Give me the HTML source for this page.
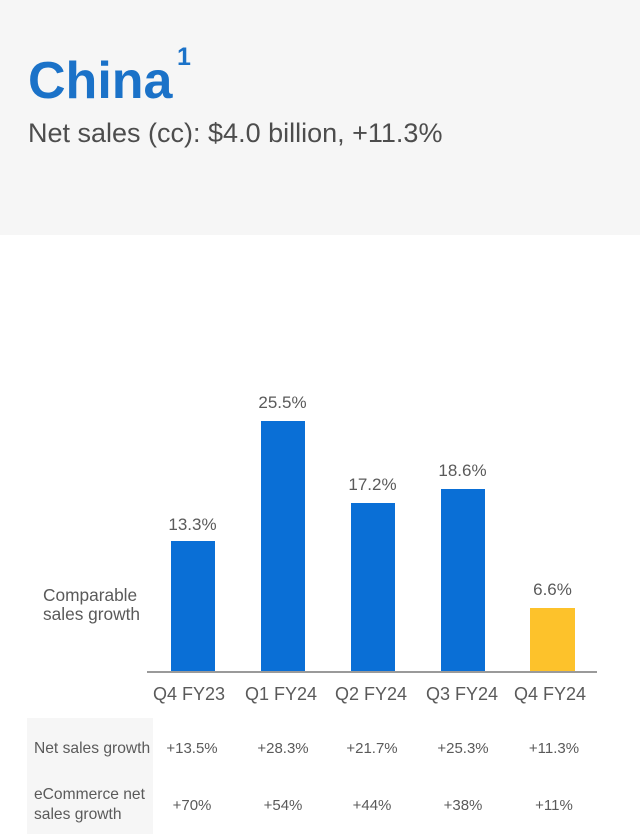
<!DOCTYPE html>
<html>
<head>
<meta charset="utf-8">
<style>
  html, body { margin: 0; padding: 0; background: #ffffff; }
  body { width: 640px; height: 834px; overflow: hidden; position: relative; }
  svg { display: block; }
  text { font-family: "Liberation Sans", "DejaVu Sans", sans-serif; }
</style>
</head>
<body>
<svg width="640" height="834" viewBox="0 0 640 834" xmlns="http://www.w3.org/2000/svg">
  <!-- header band -->
  <rect x="0" y="0" width="640" height="235" fill="#f6f6f6"/>
  <text x="28" y="98" font-size="52" font-weight="bold" fill="#1b72c8">China</text>
  <text x="177" y="65" font-size="25" font-weight="bold" fill="#1b72c8">1</text>
  <text x="28" y="142" font-size="27" fill="#4d4d4d">Net sales (cc): $4.0 billion, +11.3%</text>

  <!-- left label -->
  <text x="43" y="601" font-size="17.3" fill="#5a5a5a">Comparable</text>
  <text x="43" y="620" font-size="17.3" fill="#5a5a5a">sales growth</text>

  <!-- bars -->
  <rect x="171" y="541" width="44" height="131" fill="#0a6fd6"/>
  <rect x="261" y="421" width="44" height="251" fill="#0a6fd6"/>
  <rect x="351" y="503" width="44" height="169" fill="#0a6fd6"/>
  <rect x="441" y="489" width="44" height="183" fill="#0a6fd6"/>
  <rect x="530" y="608" width="45" height="64" fill="#fdc22b"/>

  <!-- axis -->
  <rect x="147" y="671" width="450" height="2" fill="#9a9a9a"/>

  <!-- value labels -->
  <g font-size="17" fill="#5a5a5a" text-anchor="middle">
    <text x="192.5" y="530">13.3%</text>
    <text x="282.5" y="408">25.5%</text>
    <text x="372.5" y="490">17.2%</text>
    <text x="462.5" y="476">18.6%</text>
    <text x="552.5" y="595">6.6%</text>
  </g>

  <!-- x labels -->
  <g font-size="18" fill="#5a5a5a" text-anchor="middle">
    <text x="189" y="700">Q4 FY23</text>
    <text x="281" y="700">Q1 FY24</text>
    <text x="371" y="700">Q2 FY24</text>
    <text x="462" y="700">Q3 FY24</text>
    <text x="550" y="700">Q4 FY24</text>
  </g>

  <!-- table -->
  <rect x="27" y="718" width="126" height="116" fill="#f6f6f6"/>
  <text x="34" y="753" font-size="15.6" fill="#5a5a5a">Net sales growth</text>
  <text x="34" y="799" font-size="15.6" fill="#5a5a5a">eCommerce net</text>
  <text x="34" y="819" font-size="15.6" fill="#5a5a5a">sales growth</text>

  <g font-size="15" fill="#5a5a5a" text-anchor="middle">
    <text x="192" y="753">+13.5%</text>
    <text x="283" y="753">+28.3%</text>
    <text x="372" y="753">+21.7%</text>
    <text x="463" y="753">+25.3%</text>
    <text x="554" y="753">+11.3%</text>
    <text x="192" y="810">+70%</text>
    <text x="283" y="810">+54%</text>
    <text x="372" y="810">+44%</text>
    <text x="463" y="810">+38%</text>
    <text x="554" y="810">+11%</text>
  </g>
</svg>
</body>
</html>
